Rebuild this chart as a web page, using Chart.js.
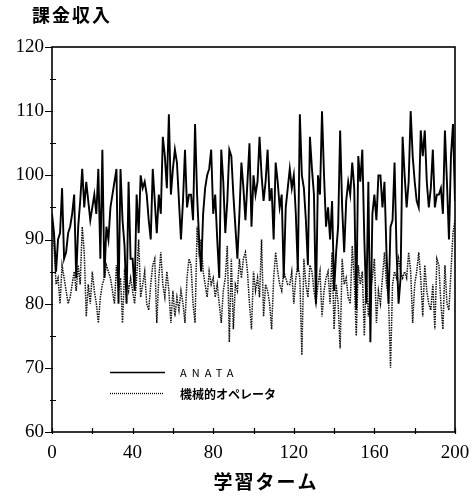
<!DOCTYPE html>
<html>
<head>
<meta charset="utf-8">
<script src="https://cdn.jsdelivr.net/npm/chart.js@4/dist/chart.umd.min.js"></script>
<style>
  html, body { margin: 0; padding: 0; background: #fff; }
  #wrap { width: 472px; height: 496px; }
</style>
</head>
<body>
<div id="wrap"><canvas id="myChart"></canvas></div>
<script>
const yTitle = '課金収入';
const xTitle = '学習ターム';
const seriesNames = ['ANATA', '機械的オペレータ'];
const xTicks = [0, 40, 80, 120, 160, 200];
const yTicks = [60, 70, 80, 90, 100, 110, 120];

// learning turn 0..200
const turns = Array.from({ length: 201 }, (_, i) => i);

// ANATA
const anata = [
    94, 91, 85, 90, 91, 98, 87, 88, 91, 92, 94, 97, 84, 92, 96, 101, 95, 99, 96, 93,
    95, 97, 94, 101, 87, 104, 84, 92, 90, 95, 97, 99, 101, 80, 101, 93, 89, 80, 99, 87,
    87, 82, 97, 91, 100, 98, 99, 97, 93, 90, 101, 96, 91, 97, 94, 106, 103, 98, 109.5, 97,
    101, 104, 102, 96, 90, 96, 104, 95, 97, 97, 93, 108, 97, 90, 85, 94, 98, 100,
    101, 104, 94, 97, 90, 84, 104, 99, 91, 96, 104, 103, 97, 92, 87, 94, 102, 98, 93, 99,
    105, 92, 100, 97, 99, 106, 100, 96, 99, 104, 96, 98, 90, 102, 99, 95, 97, 84, 95, 98,
    101, 98, 100, 94, 85, 109.5, 100, 98, 93, 86, 106, 101, 97, 80, 100, 97, 110, 100, 92, 95,
    90, 96, 82, 88, 92, 107, 95, 88, 96, 99, 97, 102, 98, 79, 103, 99, 104, 90, 80, 99,
    74, 94,
    97, 93, 100, 100, 95, 99, 88, 80, 92, 93, 102, 88, 80, 84, 106, 100, 95, 99, 110, 103,
    99, 96, 95, 107, 103, 107, 99, 95, 98, 104, 95, 97, 97, 98, 94, 107, 99, 90, 103, 108,
    96
];

// 機械的オペレータ
const operator = [
    93, 89, 83, 84, 80, 86, 84, 82, 80, 81, 83, 85, 82, 86, 83, 92, 88, 78, 83, 80,
    85, 82, 80, 77, 81, 83, 84, 86, 85, 84, 82, 80, 86, 82, 84, 77, 85, 84, 82, 84,
    82, 80, 84, 90, 81, 83, 85, 80, 79, 83, 86, 87, 77, 84, 88, 83, 81, 85, 82, 77,
    82, 78, 81, 79, 82, 80, 77, 84, 87, 86, 80, 77, 92, 88, 90, 85, 83, 81,
    85, 83, 84, 81, 83, 80, 77, 82, 84, 89, 74, 87, 76, 83, 82, 87, 84, 87, 88, 85,
    80, 76, 85, 82, 84, 81, 90, 78, 83, 82, 80, 76, 84, 88, 85, 83, 82, 85, 84, 83,
    83, 85, 80, 84, 86, 84, 72, 87, 83, 81, 86, 85, 82, 80, 83, 85, 78, 82, 84, 85,
    80, 88, 76, 83, 80, 73, 87, 83, 84, 81, 80, 89, 84, 75, 86, 83, 85, 75, 85, 78,
    82, 84,
    87, 77, 82, 80, 84, 88, 83, 81, 70, 83, 85, 84, 87, 85, 84, 85, 84, 88, 85, 77,
    83, 85, 88, 84, 78, 86, 82, 80, 79, 83, 76, 87, 86, 80, 76, 86, 80, 79, 85, 91,
    93
];

const serif = '"Liberation Serif", "Times New Roman", serif';
const jp = '"Noto Sans CJK JP", "Noto Sans", sans-serif';

// box, tick marks, titles and the in-plot legend
const paperFrame = {
    id: 'paperFrame',
    afterDraw(chart) {
        const { ctx, chartArea: a, scales: { x, y } } = chart;
        ctx.save();
        ctx.strokeStyle = '#000';
        ctx.lineWidth = 1.6;
        ctx.strokeRect(a.left, a.top, a.right - a.left, a.bottom - a.top);

        ctx.lineWidth = 1.2;
        ctx.beginPath();
        for (let v = 60; v <= 120; v += 5) {
            const py = Math.round(y.getPixelForValue(v)) + 0.5;
            const major = yTicks.includes(v);
            ctx.moveTo(a.left - (major ? 7 : 2), py);
            ctx.lineTo(a.left + (major ? 1 : 4), py);
        }
        for (let v = 0; v <= 200; v += 20) {
            const px = Math.round(x.getPixelForValue(v)) + 0.5;
            ctx.moveTo(px, a.bottom + 2);
            ctx.lineTo(px, a.bottom - 4);
        }
        ctx.stroke();

        ctx.fillStyle = '#000';
        ctx.textBaseline = 'middle';
        ctx.textAlign = 'left';
        ctx.font = 'bold 18px ' + jp;
        ctx.letterSpacing = '2px';
        ctx.fillText(yTitle, 32, 15);

        ctx.textAlign = 'center';
        ctx.font = 'bold 19px ' + jp;
        ctx.fillText(xTitle, 266, 482);

        // legend
        ctx.letterSpacing = '0px';
        ctx.lineWidth = 1.5;
        ctx.setLineDash([]);
        ctx.beginPath();
        ctx.moveTo(110, 372.5);
        ctx.lineTo(165, 372.5);
        ctx.stroke();
        ctx.lineWidth = 1.3;
        ctx.setLineDash([1, 1]);
        ctx.beginPath();
        ctx.moveTo(110, 393.5);
        ctx.lineTo(163, 393.5);
        ctx.stroke();
        ctx.setLineDash([]);
        ctx.textAlign = 'left';
        ctx.font = '11px ' + jp;
        ctx.letterSpacing = '5px';
        ctx.fillText(seriesNames[0], 180, 373);
        ctx.letterSpacing = '0px';
        ctx.font = 'bold 12px ' + jp;
        ctx.fillText(seriesNames[1], 180, 394);
        ctx.restore();
    }
};

const ctx = document.getElementById('myChart').getContext('2d');
const myChart = new Chart(ctx, {
    type: 'line',
    data: {
        labels: turns,
        datasets: [{
            label: seriesNames[0],
            data: anata,
            borderColor: '#000',
            borderWidth: 1.9,
            pointRadius: 0,
            tension: 0
        }, {
            label: seriesNames[1],
            data: operator,
            borderColor: '#111',
            borderWidth: 1.5,
            borderDash: [1.5, 1],
            pointRadius: 0,
            tension: 0
        }]
    },
    plugins: [paperFrame],
    options: {
        responsive: true,
        maintainAspectRatio: false,
        animation: false,
        layout: { padding: { top: 47, right: 17, bottom: 0, left: 0 } },
        plugins: {
            legend: { display: false },
            tooltip: { enabled: false }
        },
        scales: {
            x: {
                type: 'linear',
                min: 0,
                max: 200,
                afterFit: s => { s.height = 64; s.paddingLeft = 0; s.paddingRight = 0; },
                afterBuildTicks: s => { s.ticks = xTicks.map(v => ({ value: v })); },
                grid: { display: false, drawTicks: false },
                border: { display: false },
                ticks: {
                    color: '#000',
                    padding: 10,
                    maxRotation: 0,
                    font: { family: serif, size: 19 }
                }
            },
            y: {
                min: 60,
                max: 120,
                afterFit: s => { s.width = 52; s.paddingTop = 0; s.paddingBottom = 0; },
                afterBuildTicks: s => { s.ticks = yTicks.map(v => ({ value: v })); },
                grid: { display: false, drawTicks: false },
                border: { display: false },
                ticks: {
                    color: '#000',
                    padding: 8,
                    font: { family: serif, size: 19 }
                }
            }
        }
    }
});
</script>
</body>
</html>
